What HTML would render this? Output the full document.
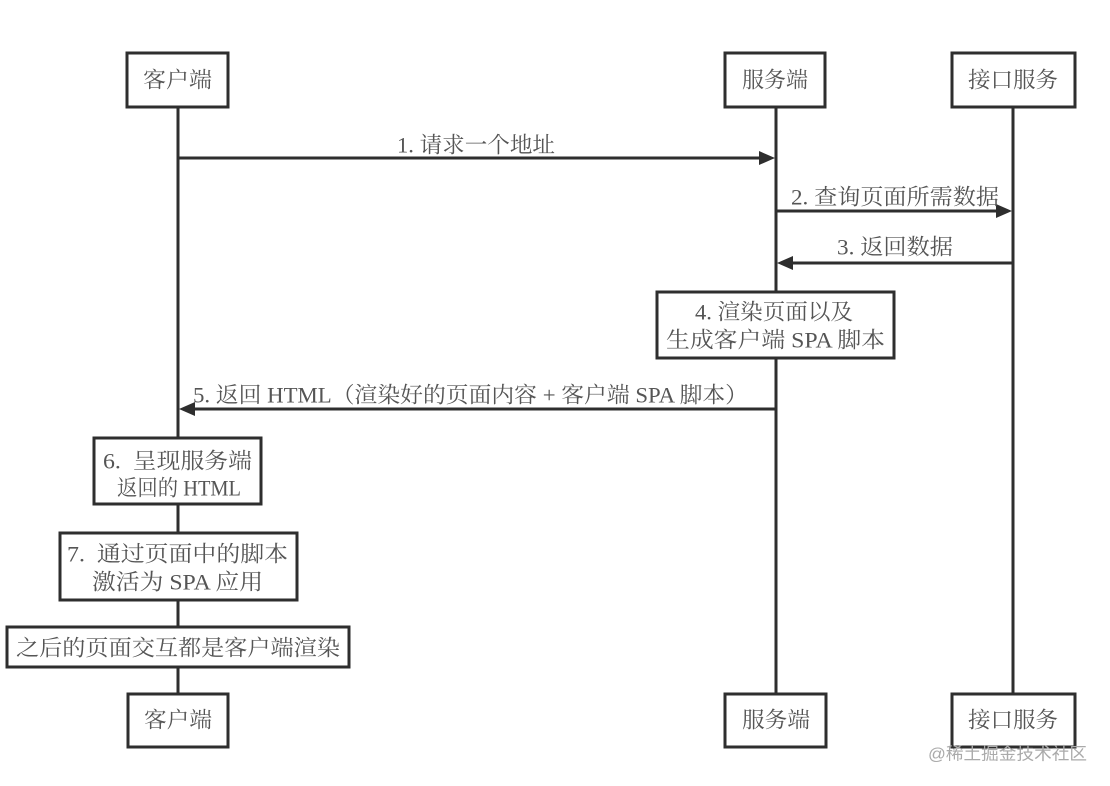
<!DOCTYPE html>
<html>
<head>
<meta charset="utf-8">
<style>
html,body{margin:0;padding:0;background:#fff;}
svg{display:block;}
text{font-family:"Liberation Serif","Noto Serif CJK SC","Noto Sans CJK SC",serif;font-size:22px;fill:#555;dominant-baseline:central;}
.wm{font-family:"Liberation Sans","Noto Sans CJK SC",sans-serif;font-size:17px;fill:#aaa;}
</style>
</head>
<body>
<svg width="1110" height="786" viewBox="0 0 1110 786" xmlns="http://www.w3.org/2000/svg">
  <rect x="0" y="0" width="1110" height="786" fill="#fff"/>
  <g stroke="#2e2e2e" stroke-width="3" fill="none">
    <line x1="178" y1="107" x2="178" y2="694"/>
    <line x1="776" y1="107" x2="776" y2="694"/>
    <line x1="1013" y1="107" x2="1013" y2="694"/>
    <line x1="178" y1="158" x2="762" y2="158"/>
    <line x1="776" y1="211" x2="999" y2="211"/>
    <line x1="790" y1="263" x2="1013" y2="263"/>
    <line x1="192" y1="409" x2="776" y2="409"/>
  </g>
  <g fill="#2e2e2e">
    <polygon points="775,158 759,151 759,165"/>
    <polygon points="1012,211 996,204 996,218"/>
    <polygon points="777,263 793,256 793,270"/>
    <polygon points="179,409 195,402 195,416"/>
  </g>
  <g stroke="#2e2e2e" stroke-width="3" fill="#fff">
    <rect x="127" y="53" width="101" height="54"/>
    <rect x="725" y="53" width="100" height="54"/>
    <rect x="952" y="53" width="123" height="54"/>
    <rect x="128" y="694" width="100" height="53"/>
    <rect x="725" y="694" width="101" height="53"/>
    <rect x="952" y="694" width="123" height="53"/>
    <rect x="657" y="292" width="237" height="66"/>
    <rect x="94" y="438" width="167" height="66"/>
    <rect x="60" y="533" width="237" height="67"/>
    <rect x="7" y="627" width="342" height="40"/>
  </g>
  <text x="143" y="80" textLength="69" lengthAdjust="spacingAndGlyphs">客户端</text>
  <text x="742" y="80" textLength="66" lengthAdjust="spacingAndGlyphs">服务端</text>
  <text x="968" y="80" textLength="90" lengthAdjust="spacingAndGlyphs">接口服务</text>
  <text x="144" y="720" textLength="68" lengthAdjust="spacingAndGlyphs">客户端</text>
  <text x="742" y="720" textLength="68" lengthAdjust="spacingAndGlyphs">服务端</text>
  <text x="968" y="720" textLength="90" lengthAdjust="spacingAndGlyphs">接口服务</text>
  <text x="397" y="145" textLength="158" lengthAdjust="spacingAndGlyphs">1. 请求一个地址</text>
  <text x="791" y="197" textLength="208" lengthAdjust="spacingAndGlyphs">2. 查询页面所需数据</text>
  <text x="837" y="247" textLength="116" lengthAdjust="spacingAndGlyphs">3. 返回数据</text>
  <text x="695" y="312" textLength="158" lengthAdjust="spacingAndGlyphs">4. 渲染页面以及</text>
  <text x="666" y="340" textLength="219" lengthAdjust="spacingAndGlyphs" xml:space="preserve">生成客户端 SPA 脚本</text>
  <text x="193" y="395" textLength="555" lengthAdjust="spacingAndGlyphs" xml:space="preserve">5. 返回 HTML（渲染好的页面内容 + 客户端 SPA 脚本）</text>
  <text x="103" y="461" textLength="149" lengthAdjust="spacingAndGlyphs" xml:space="preserve">6.  呈现服务端</text>
  <text x="117" y="488" textLength="124" lengthAdjust="spacingAndGlyphs" xml:space="preserve">返回的 HTML</text>
  <text x="67" y="554" textLength="221" lengthAdjust="spacingAndGlyphs" xml:space="preserve">7.  通过页面中的脚本</text>
  <text x="92" y="582" textLength="171" lengthAdjust="spacingAndGlyphs" xml:space="preserve">激活为 SPA 应用</text>
  <text x="16" y="648" textLength="324" lengthAdjust="spacingAndGlyphs">之后的页面交互都是客户端渲染</text>
  <text class="wm" x="928" y="754" textLength="159" lengthAdjust="spacingAndGlyphs">@稀土掘金技术社区</text>
</svg>
</body>
</html>
